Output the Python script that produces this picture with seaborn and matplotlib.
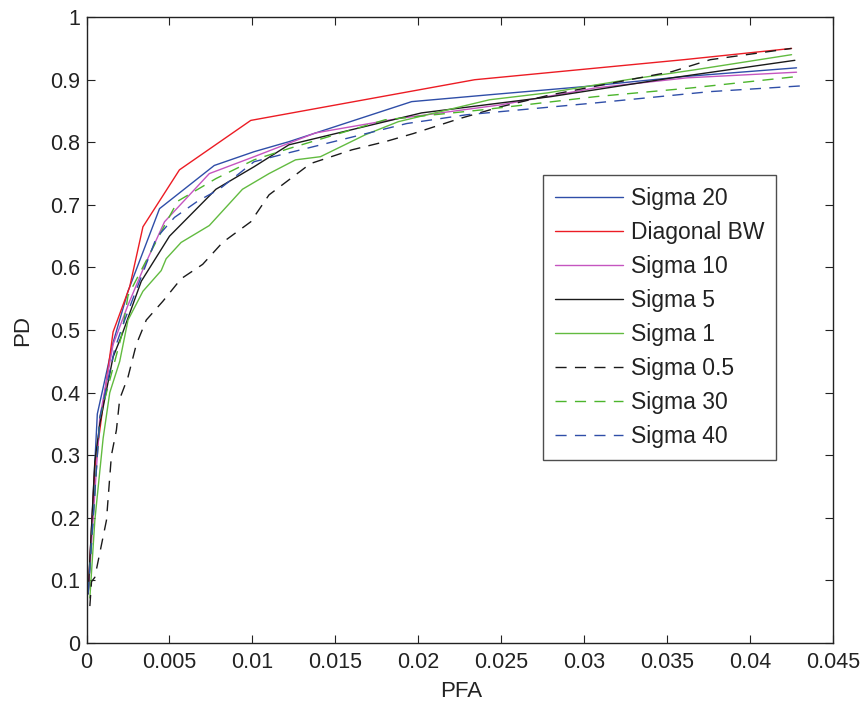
import numpy as np
import pandas as pd
import matplotlib
matplotlib.use("Agg")
import matplotlib.pyplot as plt
import seaborn as sns

# ---- data ----
s20_x = [0.0001, 0.00065, 0.0016, 0.0025, 0.0044, 0.0077, 0.0101, 0.0122, 0.0196, 0.0243, 0.0300, 0.0360, 0.0428]
s20_y = [0.078, 0.366, 0.48, 0.562, 0.694, 0.763, 0.785, 0.801, 0.865, 0.876, 0.889, 0.905, 0.919]

diag_x = [0.0001, 0.0005, 0.0010, 0.0016, 0.0026, 0.0034, 0.0056, 0.0099, 0.0234, 0.0360, 0.0425]
diag_y = [0.082, 0.28, 0.38, 0.497, 0.569, 0.665, 0.756, 0.835, 0.900, 0.932, 0.950]

s10_x = [0.0001, 0.0008, 0.0016, 0.0025, 0.0035, 0.0047, 0.0074, 0.0101, 0.0138, 0.0188, 0.0250, 0.0307, 0.0362, 0.0428]
s10_y = [0.080, 0.36, 0.477, 0.54, 0.603, 0.673, 0.75, 0.777, 0.815, 0.838, 0.860, 0.887, 0.903, 0.912]

s5_x = [0.0001, 0.0005, 0.0008, 0.0016, 0.0021, 0.0033, 0.0050, 0.0078, 0.0101, 0.0122, 0.0202, 0.0280, 0.0353, 0.0427]
s5_y = [0.080, 0.29, 0.35, 0.457, 0.49, 0.578, 0.65, 0.725, 0.761, 0.796, 0.847, 0.873, 0.903, 0.931]

s1_x = [0.0002, 0.0005, 0.0010, 0.0014, 0.0020, 0.0025, 0.0034, 0.0045, 0.0048, 0.0057, 0.0074, 0.0094,
        0.0110, 0.0126, 0.0141, 0.0168, 0.0188, 0.0243, 0.0278, 0.0326, 0.0367, 0.0425]
s1_y = [0.072, 0.196, 0.327, 0.40, 0.45, 0.516, 0.562, 0.595, 0.614, 0.64, 0.667, 0.725,
        0.750, 0.772, 0.777, 0.812, 0.833, 0.868, 0.879, 0.900, 0.916, 0.940]

s05_x = [0.0002, 0.0003, 0.0005, 0.0012, 0.0015, 0.0018, 0.0020, 0.0025, 0.0030, 0.0036, 0.0046, 0.0057,
         0.0070, 0.0082, 0.0099, 0.0110, 0.0122, 0.0135, 0.0160, 0.0180, 0.0197, 0.0225, 0.0250, 0.0280,
         0.0353, 0.0376, 0.0425]
s05_y = [0.059, 0.098, 0.105, 0.196, 0.30, 0.34, 0.39, 0.425, 0.477, 0.516, 0.546, 0.582,
         0.605, 0.64, 0.673, 0.716, 0.74, 0.766, 0.788, 0.801, 0.814, 0.838, 0.857, 0.876,
         0.913, 0.932, 0.950]

s30_x = [0.0001, 0.0008, 0.0021, 0.0025, 0.0047, 0.0055, 0.0078, 0.0101, 0.0122, 0.0180, 0.0239, 0.0307, 0.0365, 0.0428]
s30_y = [0.080, 0.36, 0.49, 0.555, 0.667, 0.706, 0.742, 0.772, 0.790, 0.836, 0.852, 0.873, 0.887, 0.905]

s40_x = [0.0001, 0.0008, 0.0017, 0.0023, 0.0042, 0.0053, 0.0067, 0.0080, 0.0101, 0.0120, 0.0193, 0.0229, 0.0307, 0.0376, 0.0430]
s40_y = [0.080, 0.36, 0.47, 0.516, 0.647, 0.68, 0.706, 0.725, 0.769, 0.782, 0.830, 0.844, 0.863, 0.881, 0.890]

labels = ["Sigma 20", "Diagonal BW", "Sigma 10", "Sigma 5", "Sigma 1", "Sigma 0.5", "Sigma 30", "Sigma 40"]
xs = [s20_x, diag_x, s10_x, s5_x, s1_x, s05_x, s30_x, s40_x]
ys = [s20_y, diag_y, s10_y, s5_y, s1_y, s05_y, s30_y, s40_y]
colors = ["#2f4ea8", "#ec1c24", "#c555c0", "#1a1a1a", "#62bb40", "#1a1a1a", "#4cb52c", "#2f4ea8"]
dashed = [False, False, False, False, False, True, True, True]

sns.set_style("ticks")
plt.rcParams["font.family"] = ["Liberation Sans", "DejaVu Sans"]

fig = plt.figure(figsize=(8.68, 7.08), dpi=100)
ax = fig.add_axes([0.0997, 0.0918, 0.860, 0.884])

for x, y, lab, c, d in zip(xs, ys, labels, colors, dashed):
    df = pd.DataFrame({"PFA": x, "PD": y})
    sns.lineplot(data=df, x="PFA", y="PD", ax=ax, sort=False, estimator=None,
                 color=c, lw=1.0, label=lab)
    if d:
        ax.lines[-1].set_dashes((8, 6))

ax.set_xlim(0, 0.045)
ax.set_ylim(0, 1)
ax.set_xticks(np.arange(0, 0.0451, 0.005))
ax.set_xticklabels(["0", "0.005", "0.01", "0.015", "0.02", "0.025", "0.03", "0.035", "0.04", "0.045"])
ax.set_yticks(np.arange(0, 1.01, 0.1))
ax.set_yticklabels(["0", "0.1", "0.2", "0.3", "0.4", "0.5", "0.6", "0.7", "0.8", "0.9", "1"])
ax.tick_params(direction="in", top=True, right=True, labelsize=15.5, length=5.8, width=0.8,
               color="#222222", labelcolor="#222222")
ax.tick_params(axis="x", pad=6.5)
ax.tick_params(axis="y", pad=4.5)
for sp in ax.spines.values():
    sp.set_visible(True)
    sp.set_linewidth(1.0)
    sp.set_color("#222222")
ax.set_xlabel("PFA", fontsize=16, color="#222222")
ax.set_ylabel("PD", fontsize=16, color="#222222")
ax.xaxis.set_label_coords(0.502, -0.0607)
ax.yaxis.set_label_coords(-0.0717, 0.5)

leg = ax.legend(loc="upper left", bbox_to_anchor=(0.612, 0.7476), fontsize=16.5, frameon=True,
                fancybox=False, edgecolor="#222222", handlelength=2.97, labelspacing=0.485,
                borderpad=0.5, handletextpad=0.34, borderaxespad=0)
leg.get_frame().set_linewidth(1.0)
for t in leg.get_texts():
    t.set_color("#222222")

fig.savefig("out.png", dpi=100)
